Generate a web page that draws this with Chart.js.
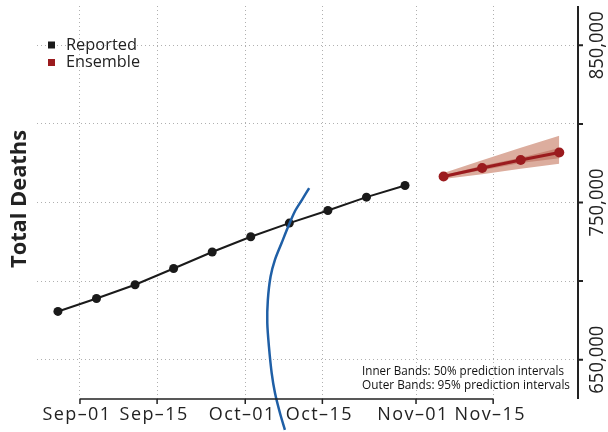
<!DOCTYPE html>
<html>
<head>
<meta charset="utf-8">
<script src="https://cdn.jsdelivr.net/npm/chart.js@4/dist/chart.umd.min.js"></script>
<style>
  html, body { margin: 0; padding: 0; background: #fff; }
  #wrap { width: 608px; height: 432px; }
</style>
</head>
<body>
<div id="wrap"><canvas id="deathsChart"></canvas></div>
<script>
// days counted from Sep-01
const tickDays = [0, 14, 30, 44, 61, 75];
const tickLabels = ["Sep\u201301", "Sep\u201315", "Oct\u201301", "Oct\u201315", "Nov\u201301", "Nov\u201315"];
const yTicks = [650000, 700000, 750000, 800000, 850000];
const yLabelTicks = [650000, 750000, 850000];

const reportedDays = [-4, 3, 10, 17, 24, 31, 38, 45, 52, 59];
const reportedDeaths = [680700, 688900, 697700, 708000, 718500, 728200, 736900, 744900, 753400, 760800];

const ensembleDays = [66, 73, 80, 87];
const ensembleMedian = [766500, 771900, 777000, 781800];
const outerUpper = [768700, 776800, 784800, 792400];
const outerLower = [764900, 767900, 771400, 774600];
const innerUpper = [767300, 773300, 778400, 784600];
const innerLower = [766000, 770500, 775100, 778200];

// the stray blue curve
const curveDays = [41.6, 40.3, 39.0, 37.8, 36.6, 35.4, 34.6, 34.1, 34.0, 34.3, 34.8, 35.4, 36.3, 37.2];
const curveValues = [759200, 751700, 744300, 734700, 724200, 713600, 702900, 687900, 673500, 658400, 641500, 628800, 616100, 605400];

const pts = (xs, ys) => xs.map((x, i) => ({ x: x, y: ys[i] }));

const FONT = "'Open Sans', 'DejaVu Sans', sans-serif";
const gridColor = "#b0b0b0";

const decor = {
    id: "decor",
    afterDraw(chart) {
        const ctx = chart.ctx;
        const xs = chart.scales.x;
        const ys = chart.scales.y;
        const area = chart.chartArea;
        ctx.save();
        ctx.strokeStyle = "#222";
        ctx.lineWidth = 1.5;

        // bottom axis
        const x0 = xs.getPixelForValue(tickDays[0]);
        const x1 = xs.getPixelForValue(tickDays[tickDays.length - 1]);
        ctx.beginPath();
        ctx.moveTo(x0, area.bottom);
        ctx.lineTo(x1, area.bottom);
        tickDays.forEach(d => {
            const px = xs.getPixelForValue(d);
            ctx.moveTo(px, area.bottom);
            ctx.lineTo(px, area.bottom + 5);
        });
        ctx.stroke();

        ctx.fillStyle = "#222";
        ctx.textAlign = "center";
        ctx.textBaseline = "middle";
        ctx.font = "18px " + FONT;
        ctx.letterSpacing = "1.4px";
        tickDays.forEach((d, i) => {
            ctx.fillText(tickLabels[i], xs.getPixelForValue(d) - 3, area.bottom + 16);
        });
        ctx.letterSpacing = "0px";

        // right axis
        ctx.lineWidth = 2;
        ctx.beginPath();
        ctx.moveTo(area.right, area.top);
        ctx.lineTo(area.right, area.bottom);
        yTicks.forEach(v => {
            const py = ys.getPixelForValue(v);
            ctx.moveTo(area.right, py);
            ctx.lineTo(area.right + 5, py);
        });
        ctx.stroke();

        ctx.font = "20px " + FONT;
        yLabelTicks.forEach(v => {
            const py = ys.getPixelForValue(v);
            ctx.save();
            ctx.translate(area.right + 19, py);
            ctx.rotate(-Math.PI / 2);
            ctx.fillText(v.toLocaleString("en-US"), 0, 0, 68);
            ctx.restore();
        });

        // axis title
        ctx.save();
        ctx.translate(20, 199);
        ctx.rotate(-Math.PI / 2);
        ctx.font = "bold 22px " + FONT;
        ctx.fillText("Total Deaths", 0, 0, 138);
        ctx.restore();

        // legend
        ctx.textAlign = "left";
        ctx.font = "17px " + FONT;
        ctx.fillStyle = "#1a1a1a";
        ctx.fillRect(48, 41.5, 7, 7);
        ctx.fillStyle = "#222";
        ctx.fillText("Reported", 66, 45, 71);
        ctx.fillStyle = "#9b1b1e";
        ctx.fillRect(48, 59, 7, 7);
        ctx.fillStyle = "#222";
        ctx.fillText("Ensemble", 66, 62.5, 74);

        // note
        ctx.font = "13.5px " + FONT;
        ctx.fillStyle = "#111";
        ctx.fillText("Inner Bands: 50% prediction intervals", 362, 371.5, 202);
        ctx.fillText("Outer Bands: 95% prediction intervals", 362, 385.5, 208);
        ctx.restore();
    }
};

new Chart(document.getElementById("deathsChart"), {
    type: "line",
    data: {
        datasets: [
            {
                label: "Outer lower",
                data: pts(ensembleDays, outerLower),
                borderWidth: 0,
                pointRadius: 0,
                fill: false,
                order: 10
            },
            {
                label: "Outer upper",
                data: pts(ensembleDays, outerUpper),
                borderWidth: 0,
                pointRadius: 0,
                backgroundColor: "#dcad9e",
                fill: "-1",
                order: 9
            },
            {
                label: "Inner lower",
                data: pts(ensembleDays, innerLower),
                borderWidth: 0,
                pointRadius: 0,
                fill: false,
                order: 8
            },
            {
                label: "Inner upper",
                data: pts(ensembleDays, innerUpper),
                borderWidth: 0,
                pointRadius: 0,
                backgroundColor: "#c98676",
                fill: "-1",
                order: 7
            },
            {
                label: "Ensemble",
                data: pts(ensembleDays, ensembleMedian),
                borderColor: "#9b1b1e",
                backgroundColor: "#9b1b1e",
                borderWidth: 3,
                pointRadius: 5,
                pointBorderWidth: 0,
                fill: false,
                order: 3
            },
            {
                label: "Reported",
                data: pts(reportedDays, reportedDeaths),
                borderColor: "#1a1a1a",
                backgroundColor: "#1a1a1a",
                borderWidth: 2,
                pointRadius: 4.5,
                pointBorderWidth: 0,
                fill: false,
                order: 2
            },
            {
                label: "Curve",
                data: pts(curveDays, curveValues),
                borderColor: "#1f5fa6",
                borderWidth: 2.5,
                pointRadius: 0,
                tension: 0.3,
                fill: false,
                clip: false,
                order: 1
            }
        ]
    },
    options: {
        responsive: true,
        maintainAspectRatio: false,
        animation: false,
        layout: { padding: { left: 37, top: 6, right: 0, bottom: 0 } },
        plugins: {
            legend: { display: false },
            tooltip: { enabled: false }
        },
        scales: {
            x: {
                type: "linear",
                min: -7.8,
                max: 90.4,
                afterBuildTicks: s => { s.ticks = tickDays.map(v => ({ value: v })); },
                afterFit: s => { s.height = 33; },
                grid: { color: gridColor, drawTicks: false },
                border: { display: false, dash: [1, 3] },
                ticks: { display: false }
            },
            y: {
                position: "right",
                min: 625000,
                max: 875000,
                afterBuildTicks: s => { s.ticks = yTicks.map(v => ({ value: v })); },
                afterFit: s => { s.width = 30; },
                grid: { color: gridColor, drawTicks: false },
                border: { display: false, dash: [1, 3] },
                ticks: { display: false }
            }
        }
    },
    plugins: [decor]
});
</script>
</body>
</html>
